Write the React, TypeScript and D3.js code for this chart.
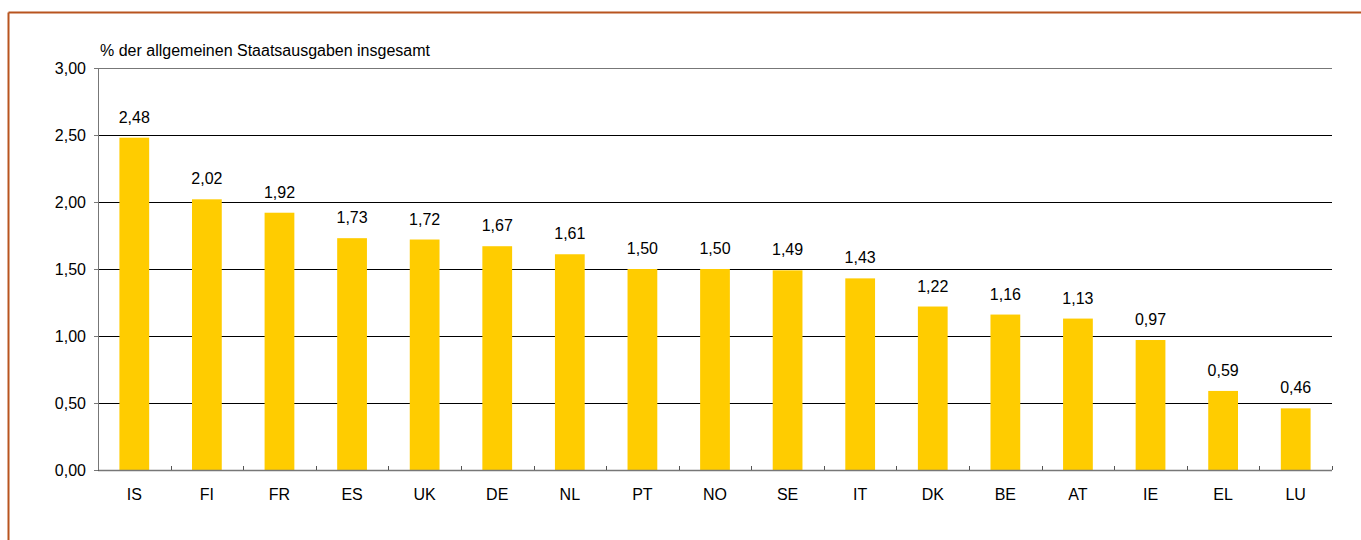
import React from "react";
import * as d3 from "d3";

const categories = ["IS", "FI", "FR", "ES", "UK", "DE", "NL", "PT", "NO", "SE", "IT", "DK", "BE", "AT", "IE", "EL", "LU"];
const values = [2.48, 2.02, 1.92, 1.73, 1.72, 1.67, 1.61, 1.5, 1.5, 1.49, 1.43, 1.22, 1.16, 1.13, 0.97, 0.59, 0.46];
const yTicks = [0, 0.5, 1, 1.5, 2, 2.5, 3];
const unitLabel = "% der allgemeinen Staatsausgaben insgesamt";

const W = 1361;
const H = 540;
const left = 98;
const right = 1332;
const top = 68;
const bottom = 470;
const font = "'Liberation Sans', Arial, sans-serif";
const fmt = (v: number) => d3.format(".2f")(v).replace(".", ",");

export default function App() {
  const x = d3.scaleBand<string>().domain(categories).range([left, right]).padding(0);
  const y = d3.scaleLinear().domain([0, 3]).range([bottom, top]);
  const bw = x.bandwidth() * 0.41;
  return (
    <svg width={W} height={H} style={{ position: "fixed", left: 0, top: 0, background: "#fff" }} fontFamily={font}>
      <rect x={0} y={0} width={W} height={H} fill="#fff" />
      {/* frame */}
      <line x1={8.5} y1={12.5} x2={W} y2={12.5} stroke="#B8541F" strokeWidth={2} />
      <line x1={8.5} y1={12.5} x2={8.5} y2={H} stroke="#B8541F" strokeWidth={2} />
      <text x={100} y={56} fontSize={16} fill="#000">{unitLabel}</text>
      {/* gridlines */}
      {yTicks.map((t) => (
        <g key={t}>
          {t > 0 && (
            <line x1={left} x2={right} y1={Math.round(y(t)) + 0.5} y2={Math.round(y(t)) + 0.5}
              stroke={t === 3 ? "#777" : "#000"} strokeWidth={1} />
          )}
          <line x1={left - 4} x2={left} y1={Math.round(y(t)) + 0.5} y2={Math.round(y(t)) + 0.5} stroke="#777" />
          <text x={86} y={y(t)} dy="0.36em" textAnchor="end" fontSize={16} fill="#000">{fmt(t)}</text>
        </g>
      ))}
      {/* bars */}
      {categories.map((c, i) => {
        const cx = (x(c) as number) + x.bandwidth() / 2;
        return (
          <g key={c}>
            <rect x={cx - bw / 2} y={y(values[i])} width={bw} height={bottom - y(values[i])} fill="#FFCC00" />
            <text x={cx} y={y(values[i]) - 15} textAnchor="middle" fontSize={16} fill="#000">{fmt(values[i])}</text>
            <text x={cx} y={500} textAnchor="middle" fontSize={16} fill="#000">{c}</text>
          </g>
        );
      })}
      {/* axes */}
      <line x1={left + 0.5} x2={left + 0.5} y1={top} y2={bottom} stroke="#777" />
      <line x1={left} x2={right} y1={bottom + 0.5} y2={bottom + 0.5} stroke="#777" strokeWidth={1.5} />
      {categories.map((c) => (
        <line key={c} x1={Math.round((x(c) as number) + x.bandwidth()) + 0.5} x2={Math.round((x(c) as number) + x.bandwidth()) + 0.5}
          y1={bottom} y2={bottom - 4} stroke="#555" />
      ))}
      <line x1={left + 0.5} x2={left + 0.5} y1={bottom} y2={bottom + 1} stroke="#555" />
    </svg>
  );
}
